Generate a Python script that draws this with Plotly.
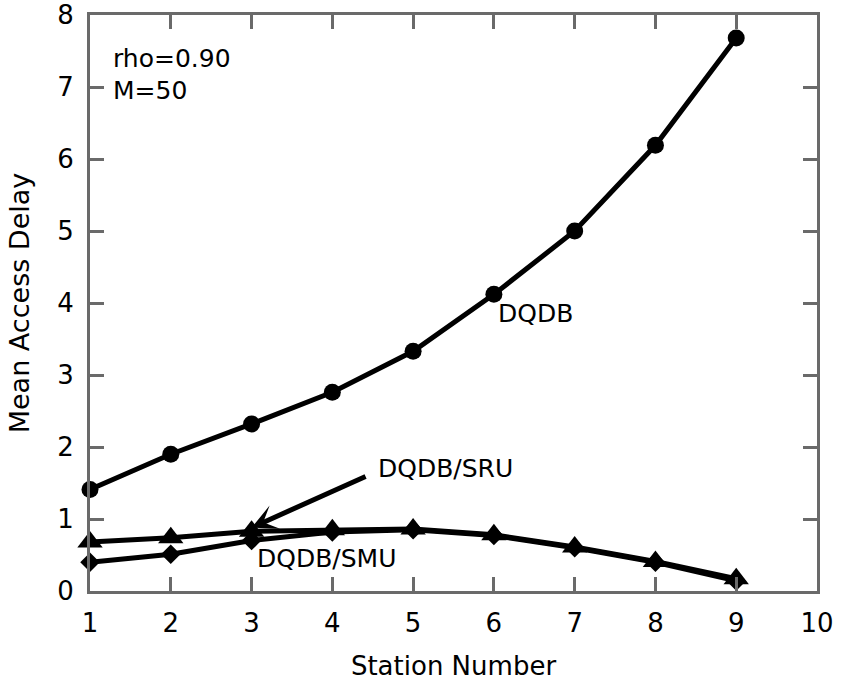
import plotly.graph_objects as go

# Station index along the bus
stations = [1, 2, 3, 4, 5, 6, 7, 8, 9]

# Mean access delay per station for each protocol
delay_dqdb = [1.41, 1.90, 2.32, 2.76, 3.33, 4.12, 5.00, 6.19, 7.68]
delay_sru = [0.68, 0.74, 0.83, 0.85, 0.86, 0.78, 0.61, 0.41, 0.17]
delay_smu = [0.40, 0.51, 0.70, 0.82, 0.85, 0.77, 0.60, 0.40, 0.14]

x_ticks = [1, 2, 3, 4, 5, 6, 7, 8, 9, 10]
y_ticks = [0, 1, 2, 3, 4, 5, 6, 7, 8]

FONT = "DejaVu Sans, Liberation Sans, Arial, sans-serif"
FRAME = "#6a6a6a"

fig = go.Figure()

fig.add_trace(go.Scatter(
    x=stations, y=delay_smu, mode="lines+markers", name="DQDB/SMU",
    line=dict(color="black", width=5),
    marker=dict(symbol="diamond", size=15, color="black"),
    cliponaxis=False,
))
fig.add_trace(go.Scatter(
    x=stations, y=delay_sru, mode="lines+markers", name="DQDB/SRU",
    line=dict(color="black", width=5),
    marker=dict(symbol="triangle-up", size=22, color="black"),
    cliponaxis=False,
))
fig.add_trace(go.Scatter(
    x=stations, y=delay_dqdb, mode="lines+markers", name="DQDB",
    line=dict(color="black", width=5),
    marker=dict(symbol="circle", size=17, color="black"),
    cliponaxis=False,
))

text_font = dict(family=FONT, size=25, color="black")

labels = [
    ("rho=0.90", 1.26, 7.39),
    ("M=50", 1.26, 6.95),
    ("DQDB", 6.02, 3.86),
    ("DQDB/SRU", 4.54, 1.70),
    ("DQDB/SMU", 3.04, 0.45),
]
for txt, lx, ly in labels:
    fig.add_annotation(x=lx, y=ly, xref="x", yref="y", text=txt,
                       showarrow=False, xanchor="left", yanchor="middle",
                       font=text_font)

# Pointer to the DQDB/SRU curve
fig.add_annotation(x=3.0, y=0.88, ax=4.43, ay=1.60,
                   xref="x", yref="y", axref="x", ayref="y",
                   text="", showarrow=True, arrowhead=3, arrowsize=0.85,
                   arrowwidth=5, arrowcolor="black", standoff=0)

axis_common = dict(
    showline=True, linecolor=FRAME, linewidth=3, mirror="ticks",
    ticks="inside", ticklen=14, tickwidth=3, tickcolor=FRAME,
    showgrid=False, zeroline=False, automargin=False,
    tickfont=dict(family=FONT, size=26, color="black"),
)

fig.update_xaxes(
    range=[1, 10], tickvals=x_ticks, ticktext=[str(v) for v in x_ticks],
    title=dict(text="Station Number", font=dict(family=FONT, size=26, color="black"),
               standoff=31),
    ticklabelstandoff=7,
    **axis_common,
)
fig.update_yaxes(
    range=[0, 8], tickvals=y_ticks, ticktext=[str(v) for v in y_ticks],
    title=dict(text="Mean Access Delay", font=dict(family=FONT, size=27, color="black"),
               standoff=20),
    ticklabelstandoff=8,
    **axis_common,
)

fig.update_layout(
    width=841, height=681,
    margin=dict(l=90, r=24, t=15, b=90),
    paper_bgcolor="white", plot_bgcolor="white",
    showlegend=False,
)

fig.write_html("out.html")
